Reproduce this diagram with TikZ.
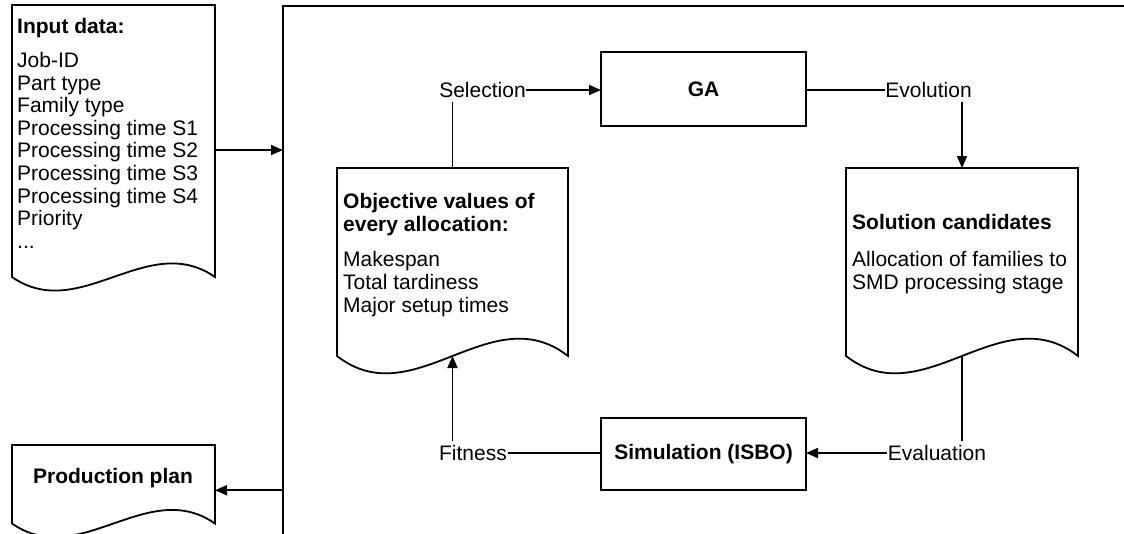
\documentclass[tikz,border=0pt]{standalone}
\usepackage{fontspec}
\setmainfont{Liberation Sans}
\usetikzlibrary{arrows.meta,calc}
\newcommand\docoutline[2]{%
  \draw[docline] (#1.south west) -- (#1.north west) -- (#1.north east) -- (#1.south east)
    .. controls ($(#1.south west)!0.667!(#1.south east)+(0,-#2)$) and ($(#1.south west)!0.333!(#1.south east)+(0,#2)$) .. (#1.south west) -- cycle;}
\begin{document}
\begin{tikzpicture}[x=1pt,y=-1pt,
  every node/.style={font=\fontsize{21}{22.6}\selectfont},
  docline/.style={line width=1.8pt, line join=miter},
  docbox/.style={draw=none, inner sep=0pt, outer sep=0pt, anchor=north west},
  procbox/.style={draw, line width=1.8pt, inner sep=0pt, outer sep=0pt, minimum width=205pt},
  lbl/.style={inner xsep=0.5pt, inner ysep=4pt},
  txt/.style={anchor=north west, align=left, inner sep=0pt},
  conn/.style={line width=1.8pt},
  arr/.style={line width=1.8pt, -{Triangle[length=12pt,width=10pt]}}]
\useasboundingbox (0,0) rectangle (1124,533);
\clip (0,0) rectangle (1124,533);
\fill[white] (0,0) rectangle (1124,533);

% outer frame
\node[draw, line width=1.8pt, anchor=north west, minimum width=900pt, minimum height=600pt, outer sep=0pt, inner sep=0pt] (frame) at (283,6) {};

% documents
\node[docbox, minimum width=203pt, minimum height=272pt] (inp) at (12,5) {};
\docoutline{inp}{47}
\node[txt] at (17,18) {\textbf{Input data:}};
\node[txt] at (17,52) {Job-ID\\Part type\\Family type\\Processing time S1\\Processing time S2\\Processing time S3\\Processing time S4\\Priority\\...};

\node[docbox, minimum width=203pt, minimum height=78.5pt] (prod) at (12,445) {};
\docoutline{prod}{47}
\node[font=\fontsize{21}{22.6}\selectfont\bfseries] at (113,478) {Production plan};

\node[docbox, minimum width=231pt, minimum height=188pt] (obj) at (337,168) {};
\docoutline{obj}{60}
\node[txt] at (343,193.4) {\textbf{Objective values of}\\\textbf{every allocation:}};
\node[txt] at (343,251.4) {Makespan\\Total tardiness\\Major setup times};

\node[docbox, minimum width=232pt, minimum height=188pt] (sol) at (846,168) {};
\docoutline{sol}{60}
\node[txt] at (852,214.4) {\textbf{Solution candidates}};
\node[txt] at (852,251.4) {Allocation of families to\\SMD processing stage};

% process boxes
\node[procbox, minimum height=74pt] (ga) at (703.5,89) {\textbf{GA}};
\node[procbox, minimum height=72pt] (sim) at (703.5,454) {\textbf{Simulation (ISBO)}};

% labels
\node[lbl] (sel) at (482.5,90) {Selection};
\node[lbl] (evo) at (928.5,90) {Evolution};
\node[lbl] (fit) at (473,453) {Fitness};
\node[lbl] (eva) at (937,453) {Evaluation};

% connectors
\coordinate (a1) at ($(inp.east)+(0,9)$);
\draw[arr] (a1) -- (a1 -| frame.west);
\coordinate (p1) at ($(prod.east)+(0,6)$);
\draw[arr] (p1 -| frame.west) -- (p1);

\draw[conn] (obj.north) -- (obj.north |- sel.south);
\draw[arr] (sel.east) -- (sel.east -| ga.west);
\draw[conn] (ga.east |- evo.west) -- (evo.west);
\draw[arr] (sol.north |- evo.south) -- (sol.north);
\draw[conn] (sol.south) -- (sol.south |- eva.north);
\draw[arr] (eva.west) -- (eva.west -| sim.east);
\draw[conn] (sim.west |- fit.east) -- (fit.east);
\draw[arr] (obj.south |- fit.north) -- (obj.south);
\end{tikzpicture}
\end{document}
